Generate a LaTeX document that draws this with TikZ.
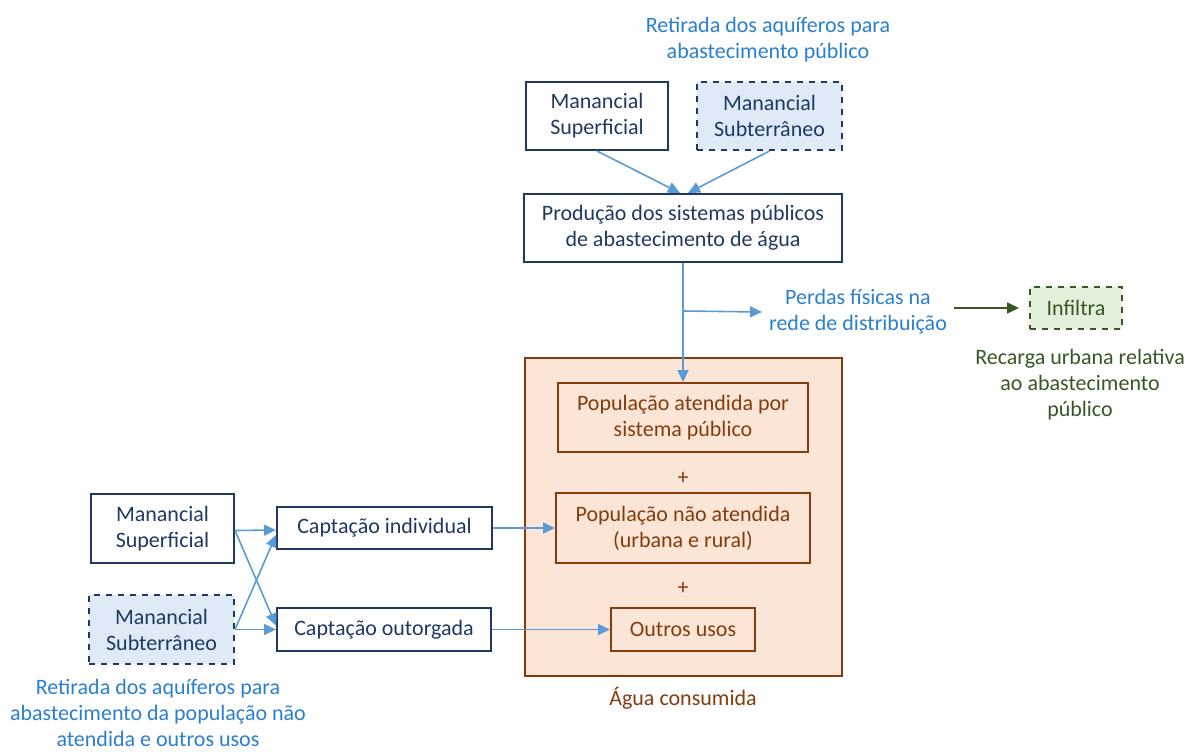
\documentclass[tikz,border=0pt]{standalone}
\usepackage{fontspec}
\setmainfont{Carlito}
\usetikzlibrary{arrows.meta}
\definecolor{navy}{HTML}{1F3864}
\definecolor{paleblue}{HTML}{DEEBF7}
\definecolor{flowblue}{HTML}{5B9BD5}
\definecolor{labelblue}{HTML}{2A7FCF}
\definecolor{darkgreen}{HTML}{385723}
\definecolor{palegreen}{HTML}{E2EFDA}
\definecolor{rust}{HTML}{843C0C}
\definecolor{peach}{HTML}{FBE5D6}

\begin{document}
\begin{tikzpicture}[x=0.5pt,y=-0.5pt,
  every node/.style={font=\fontsize{11}{13}\selectfont,align=center},
  srcbox/.style={draw=navy,text=navy,line width=1pt,minimum height=34pt},
  gwbox/.style={srcbox,dashed,fill=paleblue},
  usebox/.style={draw=rust,text=rust,line width=1pt},
  flow/.style={flowblue,line width=0.8pt,-{Triangle[length=6pt,width=5.5pt]}},
  gflow/.style={darkgreen,line width=0.8pt,-{Triangle[length=6pt,width=5.5pt]}}]
\useasboundingbox (0,0) rectangle (1188,751);

% abastecimento publico
\node[text=labelblue] (lbltop) at (768,40) {Retirada dos aquíferos para\\abastecimento público};
\node[srcbox,minimum width=71pt] (msup1) at (597,116) {Manancial\\Superficial};
\node[gwbox,minimum width=72.5pt] (msub1) at (769.5,116) {Manancial\\Subterrâneo};
\node[srcbox,minimum width=159pt] (prod) at (683,228) {Produção dos sistemas públicos\\de abastecimento de água};

\node[text=labelblue] (perdas) at (858,312) {Perdas físicas na\\rede de distribuição};
\node[draw=darkgreen,dashed,fill=palegreen,text=darkgreen,line width=1pt,minimum width=46pt,minimum height=21pt] (infil) at (1076,308) {Infiltra};
\node[text=darkgreen] (recarga) at (1080,385) {Recarga urbana relativa\\ao abastecimento\\público};

% agua consumida
\node[draw=rust,fill=peach,line width=1pt,minimum width=158.5pt,minimum height=159pt] (cons) at (683.5,517) {};
\node[text=rust] (lblcons) at (683,698) {Água consumida};
\node[usebox,minimum width=125pt,minimum height=34.5pt] (popat) at (683,417.5) {População atendida por\\sistema público};
\node[text=rust] (plus1) at (683,478) {+};
\node[usebox,minimum width=127pt,minimum height=35pt] (popnat) at (683,528) {População não atendida\\(urbana e rural)};
\node[text=rust] (plus2) at (683,588) {+};
\node[usebox,minimum width=72pt,minimum height=21.5pt] (outros) at (683,629.5) {Outros usos};

% captacao propria
\node[srcbox,minimum width=71.5pt,minimum height=34.5pt] (msup2) at (162.5,528.5) {Manancial\\Superficial};
\node[gwbox,minimum width=72.5pt,minimum height=34.5pt] (msub2) at (161.5,629.5) {Manancial\\Subterrâneo};
\node[srcbox,minimum width=107.5pt,minimum height=21pt] (capind) at (384.5,528) {Captação individual};
\node[srcbox,minimum width=107pt,minimum height=21.5pt] (capout) at (384,629.5) {Captação outorgada};
\node[text=labelblue] (lblbot) at (158,713) {Retirada dos aquíferos para\\abastecimento da população não\\atendida e outros usos};

\coordinate (branch) at (683,311);

\draw[flow] (msup1.south) -- ([xshift=-1.5pt]prod.north);
\draw[flow] (msub1.south) -- ([xshift=2.5pt]prod.north);
\draw[flow] (prod.south) -- (popat.north);
\draw[flow] (branch) -- (perdas.west);
\draw[gflow] (perdas.east |- infil.west) -- ([xshift=-5pt]infil.west);

\draw[flow] ([yshift=-1pt]msup2.east) -- ([yshift=-1pt]capind.west);
\draw[flow] ([yshift=-1pt]msup2.east) -- ([yshift=2pt]capout.west);
\draw[flow] (msub2.east) -- ([yshift=-3.5pt]capind.west);
\draw[flow] (msub2.east) -- (capout.west);
\draw[flow] (capind.east) -- (popnat.west);
\draw[flow] (capout.east) -- (outros.west);
\end{tikzpicture}
\end{document}
